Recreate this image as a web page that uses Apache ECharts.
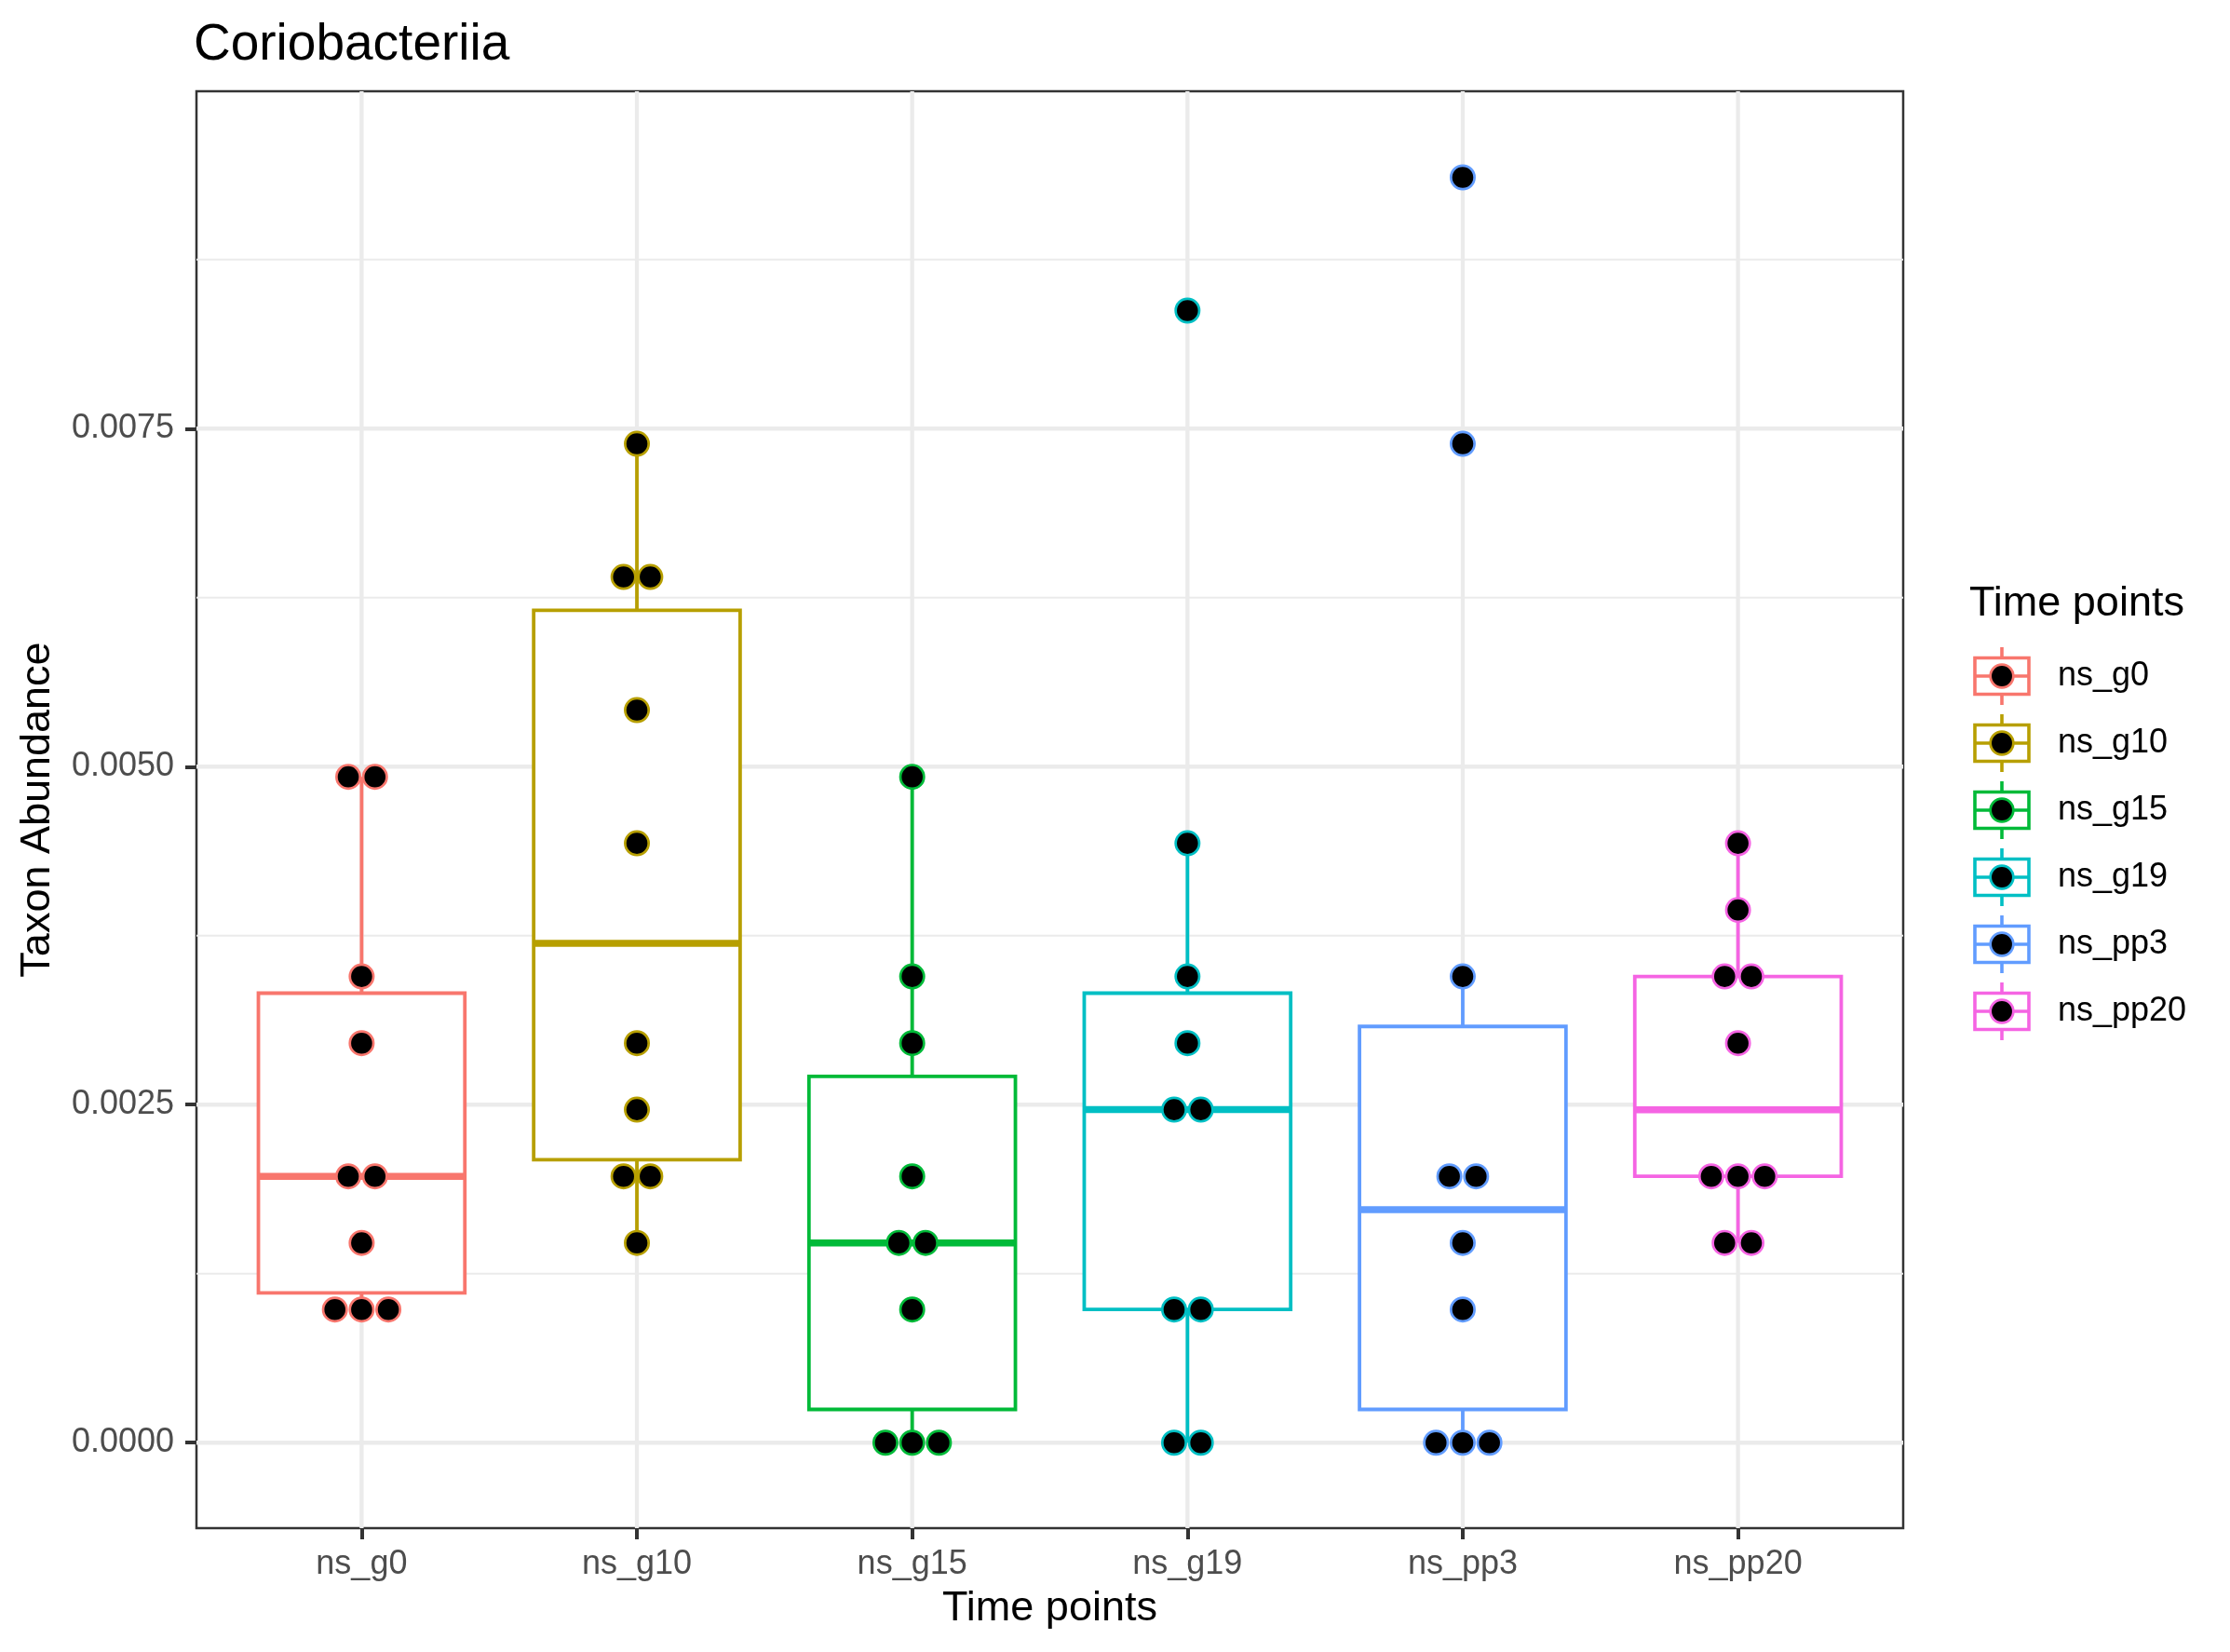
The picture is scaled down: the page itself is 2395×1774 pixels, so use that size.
<!DOCTYPE html>
<html><head><meta charset="utf-8">
<script src="https://cdn.jsdelivr.net/npm/echarts@6/dist/echarts.min.js"></script>
<style>html,body{margin:0;padding:0;background:#fff}#c{width:2395px;height:1774px}</style>
</head><body><div id="c"></div>
<script>
// ---------- data ----------
const titleText = 'Coriobacteriia';
const xTitle = 'Time points';
const yTitle = 'Taxon Abundance';
const legendTitle = 'Time points';
const categories = ['ns_g0', 'ns_g10', 'ns_g15', 'ns_g19', 'ns_pp3', 'ns_pp20'];
const colors = ['#F8766D', '#B79F00', '#00BA38', '#00BFC4', '#619CFF', '#F564E3'];
const ns_g0   = [0.004925, 0.004925, 0.003448, 0.002955, 0.00197, 0.00197, 0.001478, 0.000985, 0.000985, 0.000985];
const ns_g10  = [0.007388, 0.006403, 0.006403, 0.005418, 0.004433, 0.002955, 0.002463, 0.00197, 0.00197, 0.001478];
const ns_g15  = [0.004925, 0.003448, 0.002955, 0.00197, 0.001478, 0.001478, 0.000985, 0, 0, 0];
const ns_g19  = [0.008373, 0.004433, 0.003448, 0.002955, 0.002463, 0.002463, 0.000985, 0.000985, 0, 0];
const ns_pp3  = [0.009358, 0.007388, 0.003448, 0.00197, 0.00197, 0.001478, 0.000985, 0, 0, 0];
const ns_pp20 = [0.004433, 0.00394, 0.003448, 0.003448, 0.002955, 0.00197, 0.00197, 0.00197, 0.001478, 0.001478];
const groups = [ns_g0, ns_g10, ns_g15, ns_g19, ns_pp3, ns_pp20];
const yTicks = [0, 0.0025, 0.005, 0.0075];
const yMinorGrid = [0.00125, 0.00375, 0.00625, 0.00875];
const xTicks = [1, 2, 3, 4, 5, 6];

// ---------- styling ----------
const FONT = 'Liberation Sans';
const GRID = { left: 211, top: 98, width: 1833, height: 1543 };
const DOT_SPACING = 28.7;

// ---------- stats ----------
function quant(s, p) {
  const h = (s.length - 1) * p, lo = Math.floor(h), hi = Math.ceil(h);
  return s[lo] + (h - lo) * (s[hi] - s[lo]);
}
const boxData = groups.map((g, i) => {
  const s = g.slice().sort((a, b) => a - b);
  const q1 = quant(s, 0.25), md = quant(s, 0.5), q3 = quant(s, 0.75);
  const iqr = q3 - q1;
  const lw = Math.min(...s.filter(v => v >= q1 - 1.5 * iqr));
  const hw = Math.max(...s.filter(v => v <= q3 + 1.5 * iqr));
  return [xTicks[i], lw, q1, md, q3, hw];
});

const dotData = [];
groups.forEach((g, i) => {
  const counts = {};
  g.forEach(v => { counts[v] = (counts[v] || 0) + 1; });
  const seen = {};
  g.forEach(v => {
    const n = counts[v];
    const k = seen[v] = (seen[v] === undefined ? 0 : seen[v] + 1);
    const dx = (k - (n - 1) / 2) * DOT_SPACING;
    dotData.push({
      value: [xTicks[i], v],
      symbolOffset: [dx, 0],
      itemStyle: { color: '#000', opacity: 1, borderColor: colors[i], borderWidth: 2.7 }
    });
  });
});

const gridLineData = []
  .concat(yMinorGrid.map(v => [0, v]))
  .concat(yTicks.map(v => [1, v]))
  .concat(xTicks.map(v => [2, v]));

// ---------- legend (graphic) ----------
const legendGraphics = [];
legendGraphics.push({
  type: 'text', x: 2115, y: 649,
  style: { text: legendTitle, font: '45px "' + FONT + '"', fill: '#000', verticalAlign: 'middle', align: 'left' }
});
categories.forEach((c, i) => {
  const cy = 726 + i * 72, cx = 2150, col = colors[i];
  legendGraphics.push({
    type: 'group', children: [
      { type: 'line', shape: { x1: cx, y1: cy - 31, x2: cx, y2: cy + 31 }, style: { stroke: col, lineWidth: 3.6 } },
      { type: 'rect', shape: { x: 2121, y: cy - 19.5, width: 58, height: 39 }, style: { fill: '#fff', stroke: col, lineWidth: 3.6 } },
      { type: 'line', shape: { x1: 2121, y1: cy, x2: 2179, y2: cy }, style: { stroke: col, lineWidth: 3.6 } },
      { type: 'circle', shape: { cx: cx, cy: cy, r: 12.3 }, style: { fill: '#000', stroke: col, lineWidth: 2.7 } },
      { type: 'text', x: 2210, y: cy, style: { text: c, font: '36px "' + FONT + '"', fill: '#000', verticalAlign: 'middle', align: 'left' } }
    ]
  });
});

// ---------- chart ----------
const chart = echarts.init(document.getElementById('c'), null, { renderer: 'canvas' });
chart.setOption({
  backgroundColor: '#fff',
  animation: false,
  title: {
    text: titleText, left: 208, top: 21, padding: 0,
    textStyle: { fontFamily: FONT, fontSize: 55, fontWeight: 'normal', color: '#000' }
  },
  grid: Object.assign({ show: true, borderColor: '#333', borderWidth: 2.5, backgroundColor: 'transparent' }, GRID),
  xAxis: {
    type: 'value', min: 0.4, max: 6.6,
    name: xTitle, nameLocation: 'middle', nameGap: 64,
    nameTextStyle: { fontFamily: FONT, fontSize: 45, color: '#000' },
    axisLine: { show: false, onZero: false },
    axisTick: { show: true, length: 12, customValues: xTicks, lineStyle: { color: '#333', width: 4 } },
    axisLabel: {
      customValues: xTicks, margin: 21,
      formatter: v => categories[Math.round(v) - 1] || '',
      fontFamily: FONT, fontSize: 36, color: '#4D4D4D'
    },
    splitLine: { show: false }
  },
  yAxis: {
    type: 'value', min: -0.000632, max: 0.009995,
    name: yTitle, nameLocation: 'middle', nameGap: 148, nameRotate: 90,
    nameTextStyle: { fontFamily: FONT, fontSize: 45, color: '#000' },
    axisLine: { show: false, onZero: false },
    axisTick: { show: true, length: 12, customValues: yTicks, lineStyle: { color: '#333', width: 4 } },
    axisLabel: {
      customValues: yTicks, margin: 24,
      formatter: v => v.toFixed(4),
      fontFamily: FONT, fontSize: 36, color: '#4D4D4D'
    },
    splitLine: { show: false }
  },
  graphic: legendGraphics,
  series: [
    {
      type: 'custom', name: 'grid', z: 1, silent: true,
      data: gridLineData,
      renderItem(params, api) {
        const kind = api.value(0), v = api.value(1);
        const cs = params.coordSys;
        if (kind === 2) {
          const x = api.coord([v, 0])[0];
          return { type: 'line', shape: { x1: x, y1: cs.y, x2: x, y2: cs.y + cs.height }, style: { stroke: '#EBEBEB', lineWidth: 4.3 } };
        }
        const y = api.coord([1, v])[1];
        return { type: 'line', shape: { x1: cs.x, y1: y, x2: cs.x + cs.width, y2: y }, style: { stroke: '#EBEBEB', lineWidth: kind === 1 ? 4.3 : 2.2 } };
      }
    },
    {
      type: 'custom', name: 'box', z: 2, silent: true,
      data: boxData,
      renderItem(params, api) {
        const x = api.value(0), lw = api.value(1), q1 = api.value(2), md = api.value(3), q3 = api.value(4), hw = api.value(5);
        const c = colors[params.dataIndex];
        const tl = api.coord([x - 0.375, q3]), br = api.coord([x + 0.375, q1]);
        const pc = v => api.coord([x, v]);
        const m = api.coord([x - 0.375, md]), m2 = api.coord([x + 0.375, md]);
        return {
          type: 'group', children: [
            { type: 'line', shape: { x1: pc(hw)[0], y1: pc(hw)[1], x2: pc(q3)[0], y2: pc(q3)[1] }, style: { stroke: c, lineWidth: 3.8 } },
            { type: 'line', shape: { x1: pc(lw)[0], y1: pc(lw)[1], x2: pc(q1)[0], y2: pc(q1)[1] }, style: { stroke: c, lineWidth: 3.8 } },
            { type: 'rect', shape: { x: tl[0], y: tl[1], width: br[0] - tl[0], height: br[1] - tl[1] }, style: { fill: '#fff', stroke: c, lineWidth: 3.8 } },
            { type: 'line', shape: { x1: m[0], y1: m[1], x2: m2[0], y2: m2[1] }, style: { stroke: c, lineWidth: 7.5 } }
          ]
        };
      }
    },
    {
      type: 'scatter', name: 'dots', z: 3, silent: true,
      symbol: 'circle', symbolSize: 25.3,
      itemStyle: { opacity: 1 },
      data: dotData
    }
  ]
});
</script>
</body></html>
